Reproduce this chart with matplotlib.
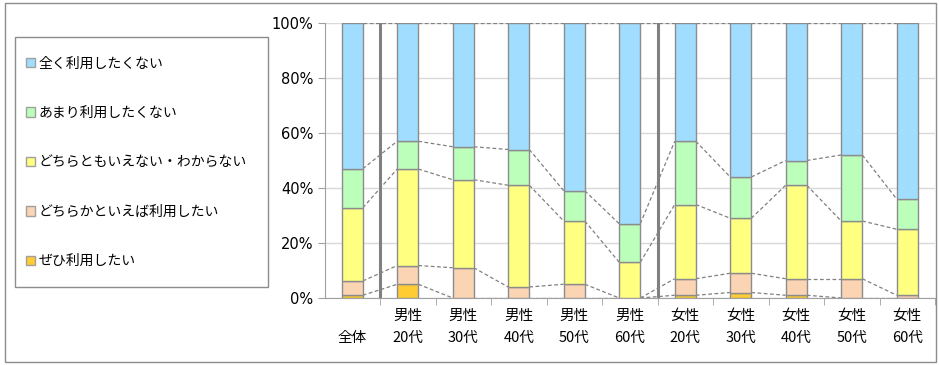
import matplotlib
matplotlib.use('Agg')
import matplotlib.pyplot as plt
from matplotlib.patches import Patch, Rectangle
import numpy as np

plt.rcParams['font.family'] = ['Noto Sans CJK JP', 'DejaVu Sans']

# DATA (percent, bottom to top of each stack)
categories = ['\n全体', '男性\n20代', '男性\n30代', '男性\n40代', '男性\n50代', '男性\n60代',
              '女性\n20代', '女性\n30代', '女性\n40代', '女性\n50代', '女性\n60代']
zehi = [1, 5, 0, 0, 0, 0, 1, 2, 1, 0, 0]                 # ぜひ利用したい
dochiraka = [5.2, 6.8, 11, 4, 5, 0, 6, 7, 6, 7, 1]       # どちらかといえば利用したい
wakaranai = [26.6, 35.1, 32, 37, 23, 13, 27, 20, 34, 21, 24]  # どちらともいえない・わからない
amari = [14.2, 10.1, 12, 13, 11, 14, 23, 15, 9, 24, 11]  # あまり利用したくない
mattaku = [53, 43, 45, 46, 61, 73, 43, 56, 50, 48, 64]    # 全く利用したくない

series = [zehi, dochiraka, wakaranai, amari, mattaku]
labels = ['ぜひ利用したい', 'どちらかといえば利用したい', 'どちらともいえない・わからない',
          'あまり利用したくない', '全く利用したくない']
colors = ['#FFCC33', '#FBD4B4', '#FFFF80', '#BBFFBB', '#A0DDFF']

W, H = 939, 365
fig = plt.figure(figsize=(W / 100, H / 100), dpi=100)
ax = fig.add_axes([324.5 / W, 67 / H, (935 - 324.5) / W, (298 - 23) / H])

x = np.arange(len(categories))
bw = 0.38
bottom = np.zeros(len(categories))
tops = []
for vals, col in zip(series, colors):
    vals = np.array(vals, dtype=float)
    ax.bar(x, vals, bw, bottom=bottom, color=col, edgecolor='#8c8c8c', linewidth=1, zorder=3)
    bottom = bottom + vals
    tops.append(bottom.copy())

# series lines between adjacent bars
for cum in tops:
    for i in range(len(x) - 1):
        ax.plot([x[i] + bw / 2, x[i + 1] - bw / 2], [cum[i], cum[i + 1]],
                color='#808080', linestyle=(0, (3, 2)), linewidth=0.9, zorder=2)

# group separators
for sx in [0.5, 5.5]:
    ax.plot([sx, sx], [0, 100], color='#808080', linewidth=2.2, zorder=4)

ax.set_xlim(-0.5, len(x) - 0.5)
ax.set_ylim(0, 100)
ax.set_yticks(range(0, 101, 20))
ax.set_yticklabels([f'{v}%' for v in range(0, 101, 20)], fontsize=10.5, family='DejaVu Sans')
ax.grid(axis='y', color='#d9d9d9', linewidth=1, zorder=0)
ax.set_axisbelow(True)

ax.set_xticks(x)
ax.set_xticklabels(categories, fontsize=10.5, linespacing=1.75)
ax.set_xticks(np.arange(0.5, len(x) - 0.5 + 1, 1), minor=True)
ax.tick_params(axis='x', which='major', length=0, pad=8)
ax.tick_params(axis='x', which='minor', length=5, color='#a0a0a0')
ax.tick_params(axis='y', length=5, color='#a0a0a0', pad=3)

for s in ['top', 'right']:
    ax.spines[s].set_visible(False)
for s in ['left', 'bottom']:
    ax.spines[s].set_color('#a0a0a0')

# outer frame
fig.patches.append(Rectangle((5 / W, 3 / H), 931 / W, 359 / H, transform=fig.transFigure,
                             fill=False, edgecolor='#8c8c8c', linewidth=1))
# legend box
fig.patches.append(Rectangle((15 / W, (H - 287) / H), 253 / W, 250 / H, transform=fig.transFigure,
                             fill=False, edgecolor='#8c8c8c', linewidth=1))

handles = [Patch(facecolor=c, edgecolor='#a0a0a0', label=l) for c, l in zip(colors, labels)][::-1]
fig.legend(handles=handles, loc='upper left', bbox_to_anchor=(20 / W, (H - 51) / H),
           frameon=False, fontsize=10, labelspacing=2.55, handlelength=0.65, handleheight=0.65,
           handletextpad=0.3, borderaxespad=0)

fig.savefig('out.png', dpi=100)
